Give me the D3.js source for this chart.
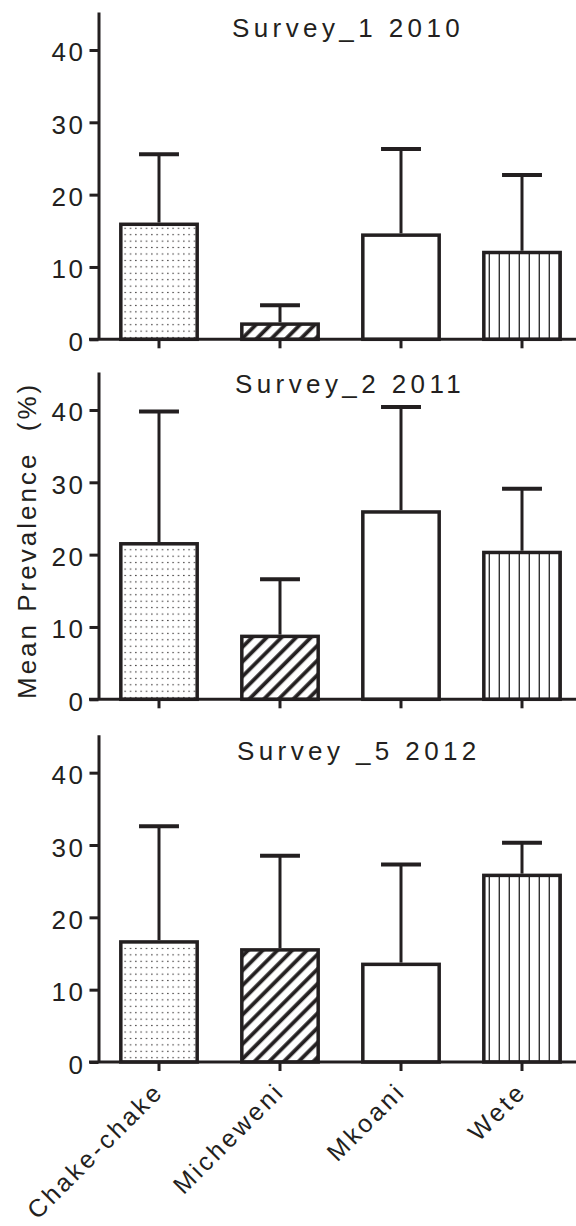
<!DOCTYPE html>
<html>
<head>
<meta charset="utf-8">
<script src="https://cdn.jsdelivr.net/npm/d3@7"></script>
<style>
    html, body { margin: 0; padding: 0; background: #fff; }
    svg text { font-family: "Liberation Sans", Arial, sans-serif; fill: #231f20; }
</style>
</head>
<body>
<div id="chart"></div>
<script>
// Data
const sites = ["Chake-chake", "Micheweni", "Mkoani", "Wete"];
const surveyTitles = ["Survey_1 2010", "Survey_2 2011", "Survey _5 2012"];
const means2010 = [15.9, 2.1, 14.4, 12.0];
const errors2010 = [9.7, 2.6, 11.9, 10.7];
const means2011 = [21.5, 8.7, 25.9, 20.3];
const errors2011 = [18.3, 7.9, 14.5, 8.8];
const means2012 = [16.6, 15.5, 13.5, 25.8];
const errors2012 = [16.0, 13.0, 13.8, 4.5];
const yTicks = [0, 10, 20, 30, 40];
const yLabel = "Mean Prevalence \u00A0(%)";

// Layout
const WIDTH = 576;
const HEIGHT = 1226;
const INK = "#231f20";
const AXIS_X = 98.5;
const PANEL_ZERO = [339.3, 699.3, 1062];
const PANEL_HEIGHT = 327.3;
const TITLE_X = [232, 235, 237];
const TITLE_Y = [37, 393, 760];
const FILLS = ["url(#dots)", "url(#hatch)", "#fff", "url(#vlines)"];

const panels = [
    { title: surveyTitles[0], means: means2010, errors: errors2010 },
    { title: surveyTitles[1], means: means2011, errors: errors2011 },
    { title: surveyTitles[2], means: means2012, errors: errors2012 }
];

const svg = d3.select("#chart")
    .append("svg")
    .attr("width", WIDTH)
    .attr("height", HEIGHT);

/**
 * Fill patterns for the bars
 */
function createPatterns() {
    const defs = svg.append("defs");

    const dots = defs.append("pattern")
        .attr("id", "dots")
        .attr("patternUnits", "userSpaceOnUse")
        .attr("width", 5.33)
        .attr("height", 6.43);
    dots.append("rect").attr("width", 5.33).attr("height", 6.43).attr("fill", "#fff");
    dots.append("circle")
        .attr("cx", 2.6).attr("cy", 3.2)
        .attr("r", 0.75)
        .attr("fill", INK);

    const hatch = defs.append("pattern")
        .attr("id", "hatch")
        .attr("patternUnits", "userSpaceOnUse")
        .attr("width", 10.4)
        .attr("height", 10.4)
        .attr("patternTransform", "rotate(45)");
    hatch.append("rect").attr("width", 10.4).attr("height", 10.4).attr("fill", "#fff");
    hatch.append("line")
        .attr("x1", 5).attr("x2", 5)
        .attr("y1", 0).attr("y2", 10.4)
        .attr("stroke", INK)
        .attr("stroke-width", 3.8);

    const vlines = defs.append("pattern")
        .attr("id", "vlines")
        .attr("patternUnits", "userSpaceOnUse")
        .attr("width", 10)
        .attr("height", 10);
    vlines.append("rect").attr("width", 10).attr("height", 10).attr("fill", "#fff");
    vlines.append("line")
        .attr("x1", 9.3).attr("x2", 9.3)
        .attr("y1", 0).attr("y2", 10)
        .attr("stroke", "#333")
        .attr("stroke-width", 1.4);
}

const x = d3.scaleBand()
    .domain(sites)
    .range([AXIS_X, AXIS_X + 484])
    .paddingInner(0.34)
    .paddingOuter(0.17);

/**
 * Draws one survey panel
 */
function drawPanel(panel, i) {
    const zero = PANEL_ZERO[i];
    const y = d3.scaleLinear()
        .domain([0, 45.25])
        .range([zero, zero - PANEL_HEIGHT]);

    const g = svg.append("g");
    const rows = sites.map((site, k) => ({ site, mean: panel.means[k], err: panel.errors[k], fill: FILLS[k] }));

    // Bars
    g.selectAll("rect.bar")
        .data(rows)
        .join("rect")
        .attr("class", "bar")
        .attr("x", d => x(d.site) + 1.75)
        .attr("width", x.bandwidth() - 3.5)
        .attr("y", d => y(d.mean))
        .attr("height", d => zero - y(d.mean))
        .attr("fill", d => d.fill)
        .attr("stroke", INK)
        .attr("stroke-width", 3.5);

    // Error bars (upper only)
    g.selectAll("line.err")
        .data(rows)
        .join("line")
        .attr("class", "err")
        .attr("x1", d => x(d.site) + x.bandwidth() / 2)
        .attr("x2", d => x(d.site) + x.bandwidth() / 2)
        .attr("y1", d => y(d.mean) - 1.75)
        .attr("y2", d => y(d.mean + d.err))
        .attr("stroke", INK)
        .attr("stroke-width", 3);

    g.selectAll("line.cap")
        .data(rows)
        .join("line")
        .attr("class", "cap")
        .attr("x1", d => x(d.site) + x.bandwidth() / 4)
        .attr("x2", d => x(d.site) + x.bandwidth() * 3 / 4)
        .attr("y1", d => y(d.mean + d.err))
        .attr("y2", d => y(d.mean + d.err))
        .attr("stroke", INK)
        .attr("stroke-width", 4);

    // Y axis
    const yAxis = g.append("g")
        .attr("transform", `translate(${AXIS_X},0)`)
        .call(d3.axisLeft(y).tickValues(yTicks).tickSize(9).tickSizeOuter(0).tickPadding(4));
    yAxis.select(".domain").attr("stroke", INK).attr("stroke-width", 3);
    yAxis.selectAll(".tick line").attr("stroke", INK).attr("stroke-width", 3);
    yAxis.selectAll(".tick text")
        .attr("font-size", 26)
        .attr("letter-spacing", 2.5)
        .attr("dy", null)
        .attr("y", 11)
        .attr("fill", INK);

    // X axis
    const xAxis = g.append("g")
        .attr("transform", `translate(0,${zero})`)
        .call(d3.axisBottom(x).tickSize(9).tickSizeOuter(0).tickFormat(""));
    xAxis.select(".domain").remove();
    xAxis.selectAll(".tick line").attr("stroke", INK).attr("stroke-width", 3);
    g.append("line")
        .attr("x1", AXIS_X - 9.5)
        .attr("x2", WIDTH)
        .attr("y1", zero)
        .attr("y2", zero)
        .attr("stroke", INK)
        .attr("stroke-width", 3);

    // Title
    g.append("text")
        .attr("x", TITLE_X[i])
        .attr("y", TITLE_Y[i])
        .attr("font-size", 26)
        .attr("letter-spacing", 4.4)
        .text(panel.title);

    // Category labels on the last panel
    if (i === panels.length - 1) {
        g.selectAll("text.site")
            .data(sites)
            .join("text")
            .attr("class", "site")
            .attr("text-anchor", "end")
            .attr("font-size", 25)
            .attr("letter-spacing", 3)
            .attr("transform", d => `translate(${x(d) + x.bandwidth() / 2 + 6},${zero + 31}) rotate(-45)`)
            .text(d => d);
    }
}

createPatterns();
panels.forEach(drawPanel);

// Shared y label
svg.append("text")
    .attr("transform", "translate(36,699) rotate(-90)")
    .attr("font-size", 26)
    .attr("letter-spacing", 3)
    .text(yLabel);
</script>
</body>
</html>
